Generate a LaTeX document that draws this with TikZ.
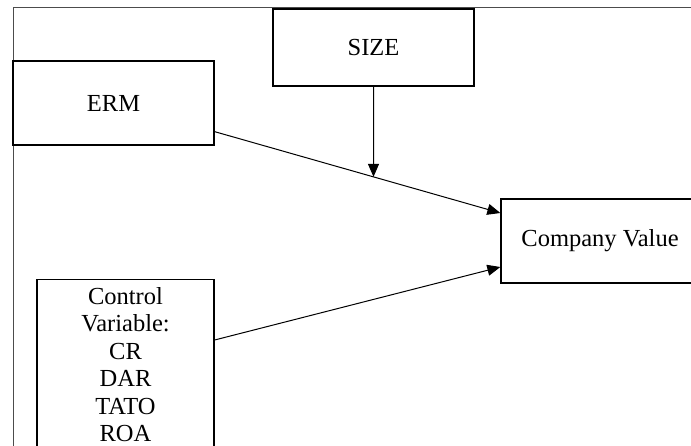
\documentclass[tikz,border=0pt]{standalone}
\usepackage{fontspec}
\setmainfont{Liberation Serif}
\usetikzlibrary{arrows.meta,intersections}

\begin{document}
\begin{tikzpicture}[x=0.5pt,y=0.5pt,
  caja/.style={draw, line width=0.65pt, inner sep=0pt, align=center,
    font=\fontsize{12.25}{13.75}\selectfont},
  flecha/.style={-{Triangle[length=6.5pt,width=5.5pt]}, line width=0.5pt}]
  % Marco
  \clip (0,0) rectangle (691,445);
  \draw[line width=0.5pt, black!70] (13,-5) -- (13,437) -- (700,437);

  % Cajas
  \node[caja, minimum width=100.5pt, minimum height=42pt] (erm) at (113.5,342) {ERM};
  \node[caja, minimum width=100.5pt, minimum height=38.5pt] (size) at (373.5,397.5) {SIZE};
  \node[caja, minimum width=99pt, minimum height=42pt] (cv) at (600,204) {Company Value};
  \node[caja, text width=84.5pt, inner xsep=2pt, inner ysep=3.7pt, anchor=north] (ctrl)
    at (125.5,166) {Control\\Variable:\\CR\\DAR\\TATO\\ROA};

  % Flechas
  \draw[flecha, name path=ermline] ([yshift=7pt]erm.south east) -- ([yshift=14pt]cv.west);
  \path[name path=caida] (size.south) -- ++(0,-150);
  \path[name intersections={of=ermline and caida, by=corte}];
  \draw[flecha] (size.south) -- (corte);
  \draw[flecha] ([yshift=-30.5pt]ctrl.north east) -- ([yshift=-13pt]cv.west);
\end{tikzpicture}
\end{document}
